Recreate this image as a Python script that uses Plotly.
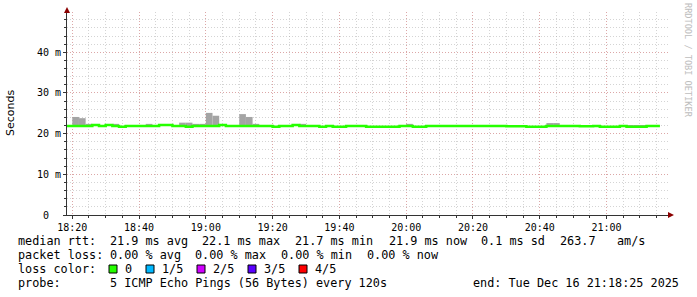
import plotly.graph_objects as go
import pandas as pd

# ---------------- data ----------------
step_start = "2025-12-16 18:18:00"   # first 2-minute step (RRD step = 120 s)
step_count = 89
range_start = "2025-12-16 18:18:25"
range_end = "2025-12-16 21:18:25"

# median RTT per step (ms)
median_ms = [
    21.9, 21.9, 21.9, 21.9, 22.1, 21.9, 22.1, 21.9, 21.7, 21.9,
    21.9, 21.9, 21.9, 21.9, 22.1, 22.1, 21.9, 21.9, 21.7, 21.9,
    21.9, 21.9, 21.9, 22.1, 21.9, 21.9, 21.9, 21.9, 21.9, 21.9,
    21.9, 21.7, 21.9, 21.9, 22.1, 21.9, 21.9, 21.9, 21.7, 21.9,
    21.7, 21.7, 21.9, 21.9, 21.9, 21.7, 21.7, 21.7, 21.7, 21.7,
    21.9, 21.9, 21.7, 21.7, 21.9, 21.9, 21.9, 21.9, 21.9, 21.9,
    21.9, 21.9, 21.9, 21.9, 21.9, 21.9, 21.8, 21.8, 21.8, 21.7,
    21.7, 21.7, 21.9, 21.9, 21.9, 21.9, 21.9, 21.8, 21.8, 21.9,
    21.7, 21.7, 21.7, 21.9, 21.7, 21.7, 21.7, 21.9, 21.9,
]

# upper edge of the smoke (slowest ping) per step (ms); None = hidden under median
smoke_top_ms = [
    None, 24.1, 23.8, 22.4, None, None, None, 22.4, None, None,
    None, None, 22.4, None, None, None, None, 22.7, 22.7, 22.4,
    22.4, 25.1, 24.4, None, None, None, 24.8, 24.1, 22.4, None,
    None, None, None, None, None, 22.4, None, None, None, None,
    None, None, None, None, None, None, None, None, None, None,
    None, 22.4, None, None, None, None, None, None, None, None,
    None, None, None, None, None, None, None, None, None, None,
    None, None, 22.6, 22.6, None, None, None, None, None, None,
    None, None, None, None, 22.1, 22.1, 22.1, None, None,
]

y_tick_vals = [0, 10, 20, 30, 40]
y_tick_text = ["0\u00a0\u00a0", "10 m", "20 m", "30 m", "40 m"]
x_tick_vals = ["2025-12-16 18:20", "2025-12-16 18:40", "2025-12-16 19:00",
               "2025-12-16 19:20", "2025-12-16 19:40", "2025-12-16 20:00",
               "2025-12-16 20:20", "2025-12-16 20:40", "2025-12-16 21:00"]
x_tick_text = ["18:20", "18:40", "19:00", "19:20", "19:40", "20:00",
               "20:20", "20:40", "21:00"]

loss_labels = ["0", "1/5", "2/5", "3/5", "4/5"]
loss_colors = ["#26ff00", "#00b8ff", "#d000ff", "#5a00ff", "#ff0000"]

legend_rows = [
    [("median rtt:", 16), ("21.9 ms avg", 107.5), ("22.1 ms max", 200),
     ("21.7 ms min", 293), ("21.9 ms now", 387), ("0.1 ms sd", 479),
     ("263.7", 558), ("am/s", 615)],
    [("packet loss:", 16), ("0.00 % avg", 107.5), ("0.00 % max", 193),
     ("0.00 % min", 279), ("0.00 % now", 364.5)],
    [("loss color:", 16)],
    [("probe:", 16), ("5 ICMP Echo Pings (56 Bytes) every 120s", 107.5)],
]
end_text = "end: Tue Dec 16 21:18:25 2025"

# ---------------- layout geometry ----------------
W, H = 697, 297
L, R, T, B = 67, 29, 12, 82
PW = W - L - R
PH = H - T - B


def px(x):
    return (x - L) / PW


def py(y):
    return (H - B - y) / PH


times = pd.date_range(step_start, periods=step_count, freq="2min")
step_end = times[-1] + pd.Timedelta(minutes=2)

fig = go.Figure()

# smoke
bar_h = [(t - m) if t is not None else None for t, m in zip(smoke_top_ms, median_ms)]
fig.add_trace(go.Bar(
    x=times, y=bar_h, base=median_ms, width=120000, offset=0,
    marker=dict(color="#a4a4a4", line=dict(width=0)),
    hoverinfo="skip", showlegend=False,
))

# median line
fig.add_trace(go.Scatter(
    x=list(times) + [step_end], y=median_ms + [median_ms[-1]],
    mode="lines", line=dict(color="#26ff00", width=2.5, shape="hv"),
    hoverinfo="skip", showlegend=False,
))

mono = "DejaVu Sans Mono"
LEG_FS = 11.8
row_y = [241, 255, 269, 283]
ann = []
for row, yy in zip(legend_rows, row_y):
    for txt, xx in row:
        ann.append(dict(x=px(xx), y=py(yy), xref="paper", yref="paper", text=txt,
                        showarrow=False, xanchor="left", yanchor="middle",
                        font=dict(family=mono, size=LEG_FS, color="#000")))
ann.append(dict(x=px(681), y=py(283), xref="paper", yref="paper", text=end_text,
                showarrow=False, xanchor="right", yanchor="middle",
                font=dict(family=mono, size=LEG_FS, color="#000")))

shapes = []
sq_x = [109, 146, 197, 248, 299]
for i, (lab, col) in enumerate(zip(loss_labels, loss_colors)):
    x0 = sq_x[i]
    shapes.append(dict(type="rect", xref="paper", yref="paper",
                       x0=px(x0), x1=px(x0 + 8), y0=py(265), y1=py(273),
                       fillcolor=col, line=dict(color="#000", width=1)))
    ann.append(dict(x=px(x0 + 14), y=py(269), xref="paper", yref="paper", text=lab,
                    showarrow=False, xanchor="left", yanchor="middle",
                    font=dict(family=mono, size=LEG_FS, color="#000")))

# y title & watermark
ann.append(dict(x=px(11), y=py(113), xref="paper", yref="paper", text="Seconds",
                showarrow=False, textangle=-90, xanchor="center", yanchor="middle",
                font=dict(family="DejaVu Sans", size=11, color="#000")))
ann.append(dict(x=px(688), y=py(60), xref="paper", yref="paper",
                text="RRDTOOL / TOBI OETIKER",
                showarrow=False, textangle=90, xanchor="center", yanchor="middle",
                font=dict(family=mono, size=8.6, color="#bdbdbd")))

# arrows
arrow_col = "#8b0000"
shapes.append(dict(type="path", xref="paper", yref="paper",
                   path=f"M {px(67)},{py(7)} L {px(64)},{py(13)} L {px(70)},{py(13)} Z",
                   fillcolor=arrow_col, line=dict(width=0)))
shapes.append(dict(type="path", xref="paper", yref="paper",
                   path=f"M {px(674)},{py(215)} L {px(668)},{py(212)} L {px(668)},{py(218)} Z",
                   fillcolor=arrow_col, line=dict(width=0)))

major_grid = "rgba(225,130,130,0.55)"
minor_grid = "rgba(160,160,160,0.45)"
dash = "1px,2px"

fig.update_layout(
    width=W, height=H, margin=dict(l=L, r=R, t=T, b=B, pad=0),
    paper_bgcolor="#ffffff", plot_bgcolor="#ffffff",
    barmode="overlay", showlegend=False,
    annotations=ann, shapes=shapes,
    xaxis=dict(
        type="date", range=[range_start, range_end],
        tickvals=x_tick_vals, ticktext=x_tick_text,
        showgrid=True, gridcolor=major_grid, griddash=dash, gridwidth=1,
        minor=dict(tick0="2025-12-16 18:20", dtick=300000, showgrid=True,
                   gridcolor=minor_grid, griddash=dash, ticks="outside",
                   ticklen=2, tickcolor="#333"),
        showline=True, linecolor="#333", linewidth=1,
        ticks="outside", ticklen=3, tickcolor="#333",
        tickfont=dict(family=mono, size=10, color="#000"),
        zeroline=False, fixedrange=True,
    ),
    yaxis=dict(
        range=[0, 49.9], tickvals=y_tick_vals, ticktext=y_tick_text,
        showgrid=True, gridcolor=major_grid, griddash=dash, gridwidth=1,
        minor=dict(dtick=2, showgrid=True, gridcolor=minor_grid, griddash=dash,
                   ticks="outside", ticklen=2, tickcolor="#333"),
        showline=True, linecolor="#333", linewidth=1,
        ticks="outside", ticklen=3, tickcolor="#333",
        tickfont=dict(family=mono, size=10, color="#000"),
        zeroline=False, fixedrange=True,
    ),
)

fig.write_html("out.html")
